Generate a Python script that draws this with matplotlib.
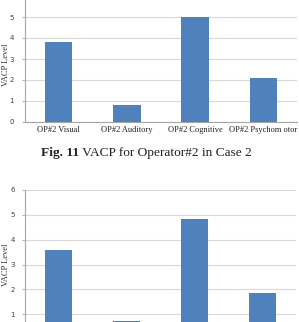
import matplotlib
matplotlib.use("Agg")
import matplotlib.pyplot as plt

categories = ["OP#2 Visual", "OP#2 Auditory", "OP#2 Cognitive", "OP#2 Psychom otor"]
values_fig11 = [3.8, 0.8, 5.0, 2.1]
values_fig12 = [3.6, 0.72, 4.85, 1.85]
yticks = [0, 1, 2, 3, 4, 5, 6]
ylabel = "VACP Level"
caption_bold = "Fig. 11"
caption_rest = " VACP for Operator#2 in Case 2"

W, H = 299, 322
fig = plt.figure(figsize=(W / 100, H / 100), dpi=100)
fig.patch.set_facecolor("white")

serif = ["Liberation Serif", "DejaVu Serif"]
bar_color = "#4F81BD"
grid_color = "#D9D9D9"
axis_color = "#A6A6A6"


def px_axes(left, top, right, bottom):
    return fig.add_axes([left / W, 1 - bottom / H, (right - left) / W, (bottom - top) / H])


def style(ax, vals, show_xlabels=True, hide_top_label=False, hide_zero=False):
    x = list(range(len(vals)))
    ax.bar(x, vals, width=0.4, color=bar_color, zorder=3)
    ax.set_xlim(-0.5, len(vals) - 0.5)
    ax.set_ylim(0, 6)
    ax.set_yticks(yticks)
    labels = [str(t) for t in yticks]
    if hide_top_label:
        labels[-1] = ""
    if hide_zero:
        labels[0] = ""
    ax.set_yticklabels(labels, fontsize=5, color="#404040")
    ax.yaxis.grid(True, color=grid_color, linewidth=0.8, zorder=0)
    ax.set_axisbelow(True)
    for s in ["top", "right"]:
        ax.spines[s].set_visible(False)
    ax.spines["left"].set_color(axis_color)
    ax.spines["bottom"].set_color(axis_color)
    ax.tick_params(axis="y", length=2.5, width=0.6, color=axis_color, pad=5)
    ax.set_xticks(x)
    if show_xlabels:
        ax.set_xticklabels(categories, fontsize=6.0, family=serif, color="#202020")
    else:
        ax.set_xticklabels([])
    ax.tick_params(axis="x", length=0, pad=3)
    ax.set_ylabel(ylabel, fontsize=6, family=serif, color="#303030")


ax1 = px_axes(24.5, -4, 297.5, 122)
style(ax1, values_fig11, hide_top_label=True)
ax1.yaxis.set_label_coords((10 - 24.5) / 273, (122 - 65) / 126)

ax2 = px_axes(25, 190, 296, 339)
style(ax2, values_fig12, show_xlabels=False, hide_zero=True)
ax2.yaxis.set_label_coords((10 - 25) / 271, (339 - 265) / 149)

# caption
t1 = fig.text(41 / W, 1 - 153 / H, caption_bold, fontsize=9.6, family=serif,
              fontweight="bold", va="center", ha="left", color="#202020")
fig.canvas.draw()
bb = t1.get_window_extent()
fig.text(bb.x1 / W, 1 - 153 / H, caption_rest, fontsize=9.6, family=serif,
         va="center", ha="left", color="#202020")

fig.savefig("out.png", dpi=100, facecolor="white")
